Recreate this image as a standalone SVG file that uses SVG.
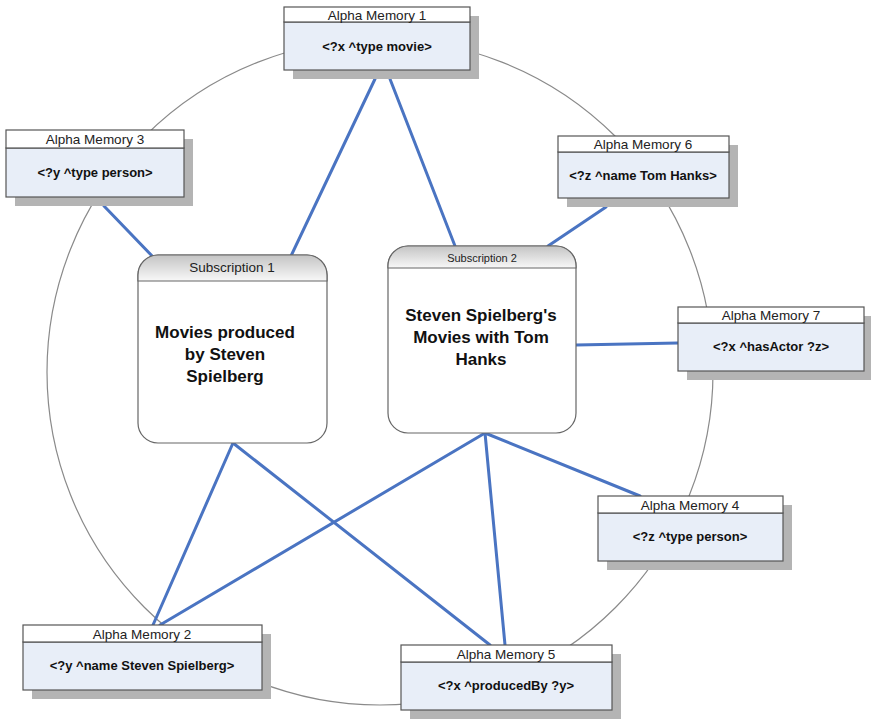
<svg xmlns="http://www.w3.org/2000/svg" width="871" height="719" viewBox="0 0 871 719">
<defs>
<linearGradient id="hdr" x1="0" y1="0" x2="0" y2="1">
<stop offset="0" stop-color="#c4c4c4"/>
<stop offset="1" stop-color="#f8f8f8"/>
</linearGradient>
<style>
.sh{fill:#b4b4b4}
.tt{fill:#ffffff;stroke:#555;stroke-width:1.2}
.bd{fill:#e8eef8;stroke:#555;stroke-width:1.2}
.t1{font-family:"Liberation Sans",Arial,sans-serif;font-size:13.5px;fill:#222;text-anchor:middle}
.t2{font-family:"Liberation Sans",Arial,sans-serif;font-size:13px;font-weight:bold;fill:#111;text-anchor:middle}
.t3{font-family:"Liberation Sans",Arial,sans-serif;font-size:17px;font-weight:bold;fill:#111;text-anchor:middle}
.sb{fill:#fff;stroke:#666;stroke-width:1.2}
.sh2{fill:url(#hdr);stroke:#666;stroke-width:1.2}
.cn line{stroke:#4a74c2;stroke-width:3;stroke-linecap:round}
</style>
</defs>
<rect width="871" height="719" fill="#fff"/>
<circle cx="380" cy="372" r="333" fill="none" stroke="#8a8a8a" stroke-width="1.2"/>
<g id="connectors" class="cn">
<line x1="375" y1="79" x2="291" y2="256"/>
<line x1="390" y1="79" x2="455" y2="246"/>
<line x1="104" y1="206" x2="155" y2="259"/>
<line x1="606" y1="207" x2="548" y2="246"/>
<line x1="678" y1="343" x2="576" y2="345"/>
<line x1="233" y1="443" x2="153" y2="625"/>
<line x1="233" y1="443" x2="490" y2="645"/>
<line x1="485" y1="433" x2="160" y2="625"/>
<line x1="485" y1="433" x2="505" y2="645"/>
<line x1="485" y1="433" x2="640" y2="496"/>
</g>
<g id="sub1">
<rect x="138" y="255" width="189" height="188" rx="20" class="sb"/>
<path d="M138,281 V275 A20,20 0 0 1 158,255 H307 A20,20 0 0 1 327,275 V281 Z" class="sh2"/>
<text x="232" y="272" class="t1">Subscription 1</text>
<text x="225" y="338" class="t3">Movies produced</text>
<text x="225" y="360" class="t3">by Steven</text>
<text x="225" y="382" class="t3">Spielberg</text>
</g>
<g id="sub2">
<rect x="388" y="246" width="188" height="187" rx="20" class="sb"/>
<path d="M388,268 V266 A20,20 0 0 1 408,246 H556 A20,20 0 0 1 576,266 V268 Z" class="sh2"/>
<text x="482" y="262" class="t1" style="font-size:11px">Subscription 2</text>
<text x="481" y="321" class="t3">Steven Spielberg's</text>
<text x="481" y="343" class="t3">Movies with Tom</text>
<text x="481" y="365" class="t3">Hanks</text>
</g>
<g id="am1">
<rect x="293" y="16" width="186" height="63" class="sh"/>
<rect x="284" y="22" width="186" height="48" class="bd"/>
<rect x="284" y="7" width="186" height="15" class="tt"/>
<text x="377" y="19.5" class="t1">Alpha Memory 1</text>
<text x="377" y="51" class="t2">&lt;?x ^type movie&gt;</text>
</g>
<g id="am3">
<rect x="15" y="139" width="178" height="67" class="sh"/>
<rect x="6" y="148" width="178" height="49" class="bd"/>
<rect x="6" y="130" width="178" height="18" class="tt"/>
<text x="95" y="144" class="t1">Alpha Memory 3</text>
<text x="95" y="177" class="t2">&lt;?y ^type person&gt;</text>
</g>
<g id="am6">
<rect x="567" y="145" width="171" height="62" class="sh"/>
<rect x="558" y="152" width="171" height="46" class="bd"/>
<rect x="558" y="136" width="171" height="16" class="tt"/>
<text x="643" y="149" class="t1">Alpha Memory 6</text>
<text x="643" y="180" class="t2">&lt;?z ^name Tom Hanks&gt;</text>
</g>
<g id="am7">
<rect x="687" y="316" width="186" height="64" class="sh"/>
<rect x="678" y="323" width="186" height="48" class="bd"/>
<rect x="678" y="307" width="186" height="16" class="tt"/>
<text x="771" y="320" class="t1">Alpha Memory 7</text>
<text x="771" y="351" class="t2">&lt;?x ^hasActor ?z&gt;</text>
</g>
<g id="am4">
<rect x="607" y="505" width="185" height="65" class="sh"/>
<rect x="598" y="513" width="185" height="48" class="bd"/>
<rect x="598" y="496" width="185" height="17" class="tt"/>
<text x="690" y="509.5" class="t1">Alpha Memory 4</text>
<text x="690" y="541" class="t2">&lt;?z ^type person&gt;</text>
</g>
<g id="am5">
<rect x="410" y="654" width="211" height="65" class="sh"/>
<rect x="401" y="662" width="211" height="48" class="bd"/>
<rect x="401" y="645" width="211" height="17" class="tt"/>
<text x="506" y="658.5" class="t1">Alpha Memory 5</text>
<text x="506" y="690" class="t2">&lt;?x ^producedBy ?y&gt;</text>
</g>
<g id="am2">
<rect x="32" y="634" width="239" height="65" class="sh"/>
<rect x="23" y="642" width="239" height="48" class="bd"/>
<rect x="23" y="625" width="239" height="17" class="tt"/>
<text x="142" y="638.5" class="t1">Alpha Memory 2</text>
<text x="142" y="670" class="t2">&lt;?y ^name Steven Spielberg&gt;</text>
</g>
</svg>
